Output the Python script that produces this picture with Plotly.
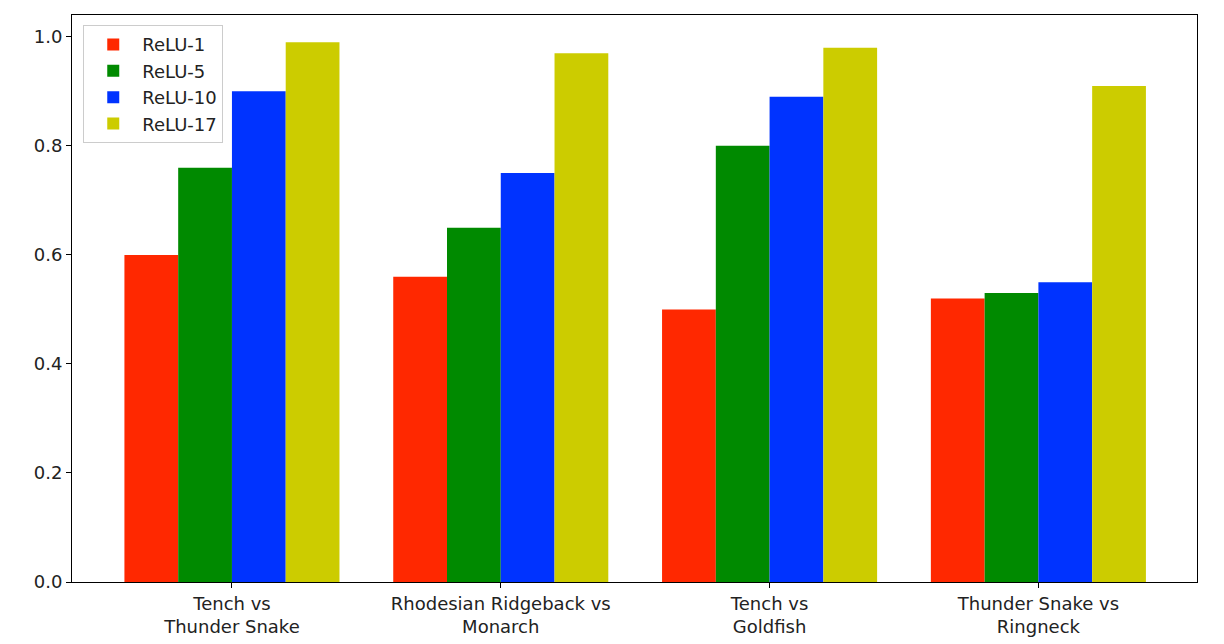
import numpy as np
import plotly.graph_objects as go

pairs = ["Tench vs<br>Thunder Snake", "Rhodesian Ridgeback vs<br>Monarch",
         "Tench vs<br>Goldfish", "Thunder Snake vs<br>Ringneck"]
layers = ["ReLU-1", "ReLU-5", "ReLU-10", "ReLU-17"]
relu1 = [0.60, 0.56, 0.50, 0.52]
relu5 = [0.76, 0.65, 0.80, 0.53]
relu10 = [0.90, 0.75, 0.89, 0.55]
relu17 = [0.99, 0.97, 0.98, 0.91]
colors = ["#ff2800", "#008a00", "#0033ff", "#cccc00"]

x = np.arange(len(pairs))

fig = go.Figure()
for name, vals, c in zip(layers, [relu1, relu5, relu10, relu17], colors):
    fig.add_trace(go.Bar(x=x, y=vals, name=name, marker_color=c, marker_line_width=0))

axis_style = dict(showline=True, linecolor="black", linewidth=1, mirror=True,
                  ticks="outside", ticklen=5, tickcolor="black", showgrid=False,
                  zeroline=False, tickfont=dict(size=18, color="#222"))

# page body adds an 8px offset, margins below account for it
fig.update_layout(
    width=1224, height=644,
    margin=dict(l=64, r=35, t=7, b=70),
    plot_bgcolor="white", paper_bgcolor="white",
    font=dict(family="DejaVu Sans", color="#222"),
    barmode="group", bargap=0.2, bargroupgap=0,
    legend=dict(x=0.01, y=0.982, xanchor="left", yanchor="top",
                bgcolor="rgba(255,255,255,0.9)", bordercolor="#ccc", borderwidth=1,
                font=dict(size=18), tracegroupgap=2, itemwidth=48),
    xaxis=dict(tickvals=x, ticktext=pairs, range=[-0.595, 3.59], **axis_style),
    yaxis=dict(range=[0, 1.04], tickvals=[0, 0.2, 0.4, 0.6, 0.8, 1.0],
               tickformat=".1f", **axis_style),
)

fig.write_html("out.html")
